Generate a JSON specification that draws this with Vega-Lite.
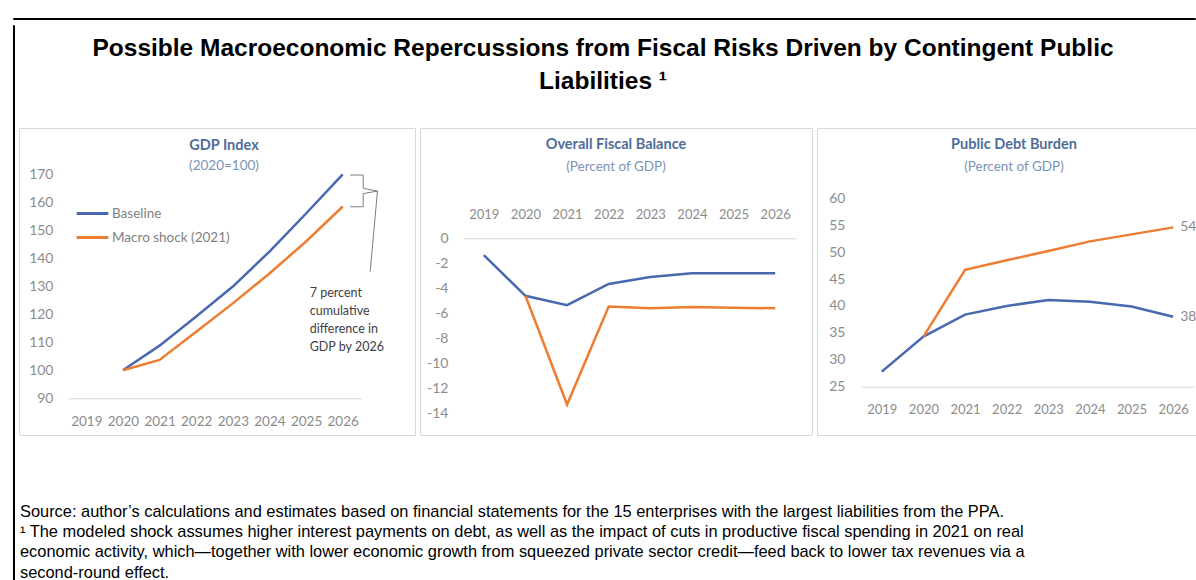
{
  "$schema": "https://vega.github.io/schema/vega-lite/v6.json",
  "padding": {"left": 12, "top": 12, "right": 0, "bottom": 0},
  "background": "white",
  "config": {"view": {"stroke": null}, "font": "Lato"},
  "datasets": {
    "gdp": [
      {"year": 2020, "series": "Baseline", "value": 100},
      {"year": 2021, "series": "Baseline", "value": 108.8},
      {"year": 2022, "series": "Baseline", "value": 119.2},
      {"year": 2023, "series": "Baseline", "value": 129.9},
      {"year": 2024, "series": "Baseline", "value": 142.4},
      {"year": 2025, "series": "Baseline", "value": 156.0},
      {"year": 2026, "series": "Baseline", "value": 170.0},
      {"year": 2020, "series": "Macro shock (2021)", "value": 100},
      {"year": 2021, "series": "Macro shock (2021)", "value": 103.7},
      {"year": 2022, "series": "Macro shock (2021)", "value": 113.8},
      {"year": 2023, "series": "Macro shock (2021)", "value": 123.9},
      {"year": 2024, "series": "Macro shock (2021)", "value": 134.6},
      {"year": 2025, "series": "Macro shock (2021)", "value": 146.0},
      {"year": 2026, "series": "Macro shock (2021)", "value": 158.5}
    ],
    "fiscal": [
      {"year": 2019, "series": "Baseline", "value": -1.35},
      {"year": 2020, "series": "Baseline", "value": -4.6},
      {"year": 2021, "series": "Baseline", "value": -5.35},
      {"year": 2022, "series": "Baseline", "value": -3.65},
      {"year": 2023, "series": "Baseline", "value": -3.1},
      {"year": 2024, "series": "Baseline", "value": -2.8},
      {"year": 2025, "series": "Baseline", "value": -2.8},
      {"year": 2026, "series": "Baseline", "value": -2.8},
      {"year": 2020, "series": "Macro shock (2021)", "value": -4.6},
      {"year": 2021, "series": "Macro shock (2021)", "value": -13.3},
      {"year": 2022, "series": "Macro shock (2021)", "value": -5.45},
      {"year": 2023, "series": "Macro shock (2021)", "value": -5.6},
      {"year": 2024, "series": "Macro shock (2021)", "value": -5.5},
      {"year": 2025, "series": "Macro shock (2021)", "value": -5.55},
      {"year": 2026, "series": "Macro shock (2021)", "value": -5.6}
    ],
    "debt": [
      {"year": 2019, "series": "Baseline", "value": 27.8},
      {"year": 2020, "series": "Baseline", "value": 34.3},
      {"year": 2021, "series": "Baseline", "value": 38.4},
      {"year": 2022, "series": "Baseline", "value": 40.0},
      {"year": 2023, "series": "Baseline", "value": 41.1},
      {"year": 2024, "series": "Baseline", "value": 40.8},
      {"year": 2025, "series": "Baseline", "value": 39.9},
      {"year": 2026, "series": "Baseline", "value": 38.0},
      {"year": 2020, "series": "Macro shock (2021)", "value": 34.3},
      {"year": 2021, "series": "Macro shock (2021)", "value": 46.7},
      {"year": 2022, "series": "Macro shock (2021)", "value": 48.5},
      {"year": 2023, "series": "Macro shock (2021)", "value": 50.2},
      {"year": 2024, "series": "Macro shock (2021)", "value": 52.0},
      {"year": 2025, "series": "Macro shock (2021)", "value": 53.3},
      {"year": 2026, "series": "Macro shock (2021)", "value": 54.6}
    ],
    "debtLabels": [
      {"year": 2026, "value": 54.6, "label": "54"},
      {"year": 2026, "value": 38.0, "label": "38"}
    ],
    "bracket": [
      {"i": 1, "year": 2026.2, "value": 169.75},
      {"i": 2, "year": 2026.56, "value": 169.75},
      {"i": 3, "year": 2026.56, "value": 165.0},
      {"i": 4, "year": 2026.95, "value": 164.0},
      {"i": 5, "year": 2026.56, "value": 163.1},
      {"i": 6, "year": 2026.56, "value": 158.4},
      {"i": 7, "year": 2026.2, "value": 158.4}
    ],
    "leader": [
      {"i": 1, "year": 2026.95, "value": 164.0},
      {"i": 2, "year": 2026.75, "value": 135.2}
    ],
    "note": [
      {"year": 2025.1, "value": 127.6, "text": "7 percent"},
      {"year": 2025.1, "value": 121.2, "text": "cumulative"},
      {"year": 2025.1, "value": 114.75, "text": "difference in"},
      {"year": 2025.1, "value": 108.3, "text": "GDP by 2026"}
    ]
  },
  "spacing": 0,
  "vconcat": [
    {
      "width": 1182, "height": 1,
      "view": {"stroke": "black", "strokeWidth": 1},
      "data": {"values": [{}]},
      "mark": {"type": "text"},
      "encoding": {"text": {"value": ""}}
    },
    {
      "spacing": 3,
      "hconcat": [
        {
          "width": 1, "height": 567,
          "view": {"stroke": "black", "strokeWidth": 1},
          "data": {"values": [{}]},
          "mark": {"type": "text"},
          "encoding": {"text": {"value": ""}}
        },
        {
          "spacing": 0,
          "vconcat": [
            {
              "width": 1174, "height": 11,
              "data": {"values": [{}]},
              "mark": {"type": "text"},
              "encoding": {"text": {"value": ""}}
            },
            {
              "spacing": 3,
              "resolve": {"scale": {"color": "independent"}, "legend": {"color": "independent"}},
              "title": {
                "text": ["Possible Macroeconomic Repercussions from Fiscal Risks Driven by Contingent Public", "Liabilities ¹"],
                "anchor": "middle",
                "dx": -5,
                "font": "Liberation Sans",
                "fontSize": 24.5,
                "fontWeight": "bold",
                "color": "black",
                "lineHeight": 33,
                "offset": 33
              },
              "hconcat": [
                {
                  "width": 396, "height": 307,
                  "view": {"stroke": "#d9d9d9", "strokeWidth": 1, "fill": "white"},
                  "title": {
                    "text": "GDP Index", "subtitle": "(2020=100)",
                    "anchor": "middle", "frame": "group", "dx": 7, "offset": -45,
                    "font": "Lato", "fontSize": 14.5, "fontWeight": "bold", "color": "#4f6d9a",
                    "subtitleFont": "Lato", "subtitleFontSize": 13.5, "subtitleColor": "#7d93b6", "subtitlePadding": 5
                  },
                  "encoding": {
                    "x": {"field": "year", "type": "quantitative",
                      "scale": {"domain": [2018.5, 2026.5], "range": [49, 342], "nice": false, "zero": false},
                      "axis": {"orient": "bottom", "offset": -36.7, "values": [2019, 2020, 2021, 2022, 2023, 2024, 2025, 2026], "format": "d", "title": null, "grid": false, "ticks": false, "tickSize": 0, "domain": true, "domainColor": "#d9d9d9", "domainWidth": 1, "labelColor": "#8c8c8c", "labelFont": "Lato", "labelFontSize": 13.5, "labelPadding": 16, "labelFlush": false, "labelOverlap": false}},
                    "y": {"field": "value", "type": "quantitative",
                      "scale": {"domain": [90, 170], "range": [270.3, 46.3], "nice": false, "zero": false},
                      "axis": {"orient": "left", "offset": -49, "values": [90, 100, 110, 120, 130, 140, 150, 160, 170], "title": null, "grid": false, "ticks": false, "tickSize": 0, "domain": false, "labelColor": "#8c8c8c", "labelFont": "Lato", "labelFontSize": 14, "labelPadding": 15, "labelOverlap": false, "labelBound": false, "labelFlush": false}}
                  },
                  "layer": [
                    {
                      "data": {"name": "gdp"},
                      "mark": {"type": "line", "strokeWidth": 2.5},
                      "encoding": {
                        "color": {"field": "series", "type": "nominal",
                          "scale": {"domain": ["Baseline", "Macro shock (2021)"], "range": ["#4868b0", "#ed7d31"]},
                          "legend": {"orient": "none", "legendX": 56, "legendY": 68, "title": null, "symbolType": "stroke", "symbolStrokeWidth": 3, "symbolSize": 1000, "labelFont": "Lato", "labelFontSize": 13.5, "labelColor": "#7f7f7f", "labelOffset": 2, "rowPadding": 0, "padding": 0}}
                      }
                    },
                    {
                      "data": {"name": "bracket"},
                      "mark": {"type": "line", "color": "#7f7f7f", "strokeWidth": 1},
                      "encoding": {"order": {"field": "i", "type": "quantitative"}}
                    },
                    {
                      "data": {"name": "leader"},
                      "mark": {"type": "line", "color": "#7f7f7f", "strokeWidth": 1},
                      "encoding": {"order": {"field": "i", "type": "quantitative"}}
                    },
                    {
                      "data": {"name": "note"},
                      "mark": {"type": "text", "align": "left", "baseline": "middle", "font": "Lato", "fontSize": 12.5, "color": "#404040"},
                      "encoding": {"text": {"field": "text"}}
                    }
                  ]
                },
                {
                  "width": 392, "height": 307,
                  "view": {"stroke": "#d9d9d9", "strokeWidth": 1, "fill": "white"},
                  "title": {
                    "text": "Overall Fiscal Balance", "subtitle": "(Percent of GDP)",
                    "anchor": "middle", "frame": "group", "dx": 0, "offset": -46,
                    "font": "Lato", "fontSize": 14.5, "fontWeight": "bold", "color": "#4f6d9a",
                    "subtitleFont": "Lato", "subtitleFontSize": 13.5, "subtitleColor": "#7d93b6", "subtitlePadding": 7
                  },
                  "data": {"name": "fiscal"},
                  "mark": {"type": "line", "strokeWidth": 2.5},
                  "encoding": {
                    "x": {"field": "year", "type": "quantitative",
                      "scale": {"domain": [2018.5, 2026.5], "range": [43, 376], "nice": false, "zero": false},
                      "axis": {"orient": "top", "offset": -110.3, "values": [2019, 2020, 2021, 2022, 2023, 2024, 2025, 2026], "format": "d", "title": null, "grid": false, "ticks": false, "tickSize": 0, "domain": true, "domainColor": "#d9d9d9", "domainWidth": 1, "labelColor": "#8c8c8c", "labelFont": "Lato", "labelFontSize": 13, "labelPadding": 17, "labelFlush": false, "labelOverlap": false}},
                    "y": {"field": "value", "type": "quantitative",
                      "scale": {"domain": [-14, 0], "range": [285.3, 110.3], "nice": false, "zero": false},
                      "axis": {"orient": "left", "offset": -43, "values": [-14, -12, -10, -8, -6, -4, -2, 0], "labelExpr": "replace(datum.label, '−', '-')", "title": null, "grid": false, "ticks": false, "tickSize": 0, "domain": false, "labelColor": "#8c8c8c", "labelFont": "Lato", "labelFontSize": 14, "labelPadding": 15, "labelOverlap": false, "labelBound": false, "labelFlush": false}},
                    "color": {"field": "series", "type": "nominal",
                      "scale": {"domain": ["Baseline", "Macro shock (2021)"], "range": ["#4868b0", "#ed7d31"]},
                      "legend": null}
                  }
                },
                {
                  "width": 380, "height": 307,
                  "view": {"stroke": "#d9d9d9", "strokeWidth": 1, "fill": "white"},
                  "title": {
                    "text": "Public Debt Burden", "subtitle": "(Percent of GDP)",
                    "anchor": "middle", "frame": "group", "dx": 7, "offset": -46,
                    "font": "Lato", "fontSize": 14.5, "fontWeight": "bold", "color": "#4f6d9a",
                    "subtitleFont": "Lato", "subtitleFontSize": 13.5, "subtitleColor": "#7d93b6", "subtitlePadding": 7
                  },
                  "encoding": {
                    "x": {"field": "year", "type": "quantitative",
                      "scale": {"domain": [2018.5, 2026.5], "range": [44, 377], "nice": false, "zero": false},
                      "axis": {"orient": "bottom", "offset": -48.3, "values": [2019, 2020, 2021, 2022, 2023, 2024, 2025, 2026], "format": "d", "title": null, "grid": false, "ticks": false, "tickSize": 0, "domain": true, "domainColor": "#d9d9d9", "domainWidth": 1, "labelColor": "#8c8c8c", "labelFont": "Lato", "labelFontSize": 13, "labelPadding": 17, "labelFlush": false, "labelOverlap": false}},
                    "y": {"field": "value", "type": "quantitative",
                      "scale": {"domain": [25, 60], "range": [258.7, 70.3], "nice": false, "zero": false},
                      "axis": {"orient": "left", "offset": -44, "values": [25, 30, 35, 40, 45, 50, 55, 60], "title": null, "grid": false, "ticks": false, "tickSize": 0, "domain": false, "labelColor": "#8c8c8c", "labelFont": "Lato", "labelFontSize": 14, "labelPadding": 16, "labelOverlap": false, "labelBound": false, "labelFlush": false}}
                  },
                  "layer": [
                    {
                      "data": {"name": "debt"},
                      "mark": {"type": "line", "strokeWidth": 2.5},
                      "encoding": {
                        "color": {"field": "series", "type": "nominal",
                          "scale": {"domain": ["Baseline", "Macro shock (2021)"], "range": ["#4868b0", "#ed7d31"]},
                          "legend": null}
                      }
                    },
                    {
                      "data": {"name": "debtLabels"},
                      "mark": {"type": "text", "align": "left", "baseline": "middle", "dx": 7, "font": "Lato", "fontSize": 14, "color": "#8c8c8c"},
                      "encoding": {"text": {"field": "label"}}
                    }
                  ]
                }
              ]
            },
            {
              "width": 1174, "height": 68,
              "data": {"values": [{}]},
              "mark": {"type": "text"},
              "encoding": {"text": {"value": ""}},
              "title": {
                "text": [
                  "Source: author’s calculations and estimates based on financial statements for the 15 enterprises with the largest liabilities from the PPA.",
                  "¹ The modeled shock assumes higher interest payments on debt, as well as the impact of cuts in productive fiscal spending in 2021 on real",
                  "economic activity, which—together with lower economic growth from squeezed private sector credit—feed back to lower tax revenues via a",
                  "second-round effect."
                ],
                "orient": "bottom", "anchor": "start", "frame": "group",
                "font": "Liberation Sans", "fontSize": 16.4, "fontWeight": "normal", "color": "black",
                "lineHeight": 20.2, "offset": 0, "dx": 1
              }
            }
          ]
        },
        {
          "width": 1, "height": 567,
          "view": {"stroke": "black", "strokeWidth": 1},
          "data": {"values": [{}]},
          "mark": {"type": "text"},
          "encoding": {"text": {"value": ""}}
        }
      ]
    }
  ]
}
